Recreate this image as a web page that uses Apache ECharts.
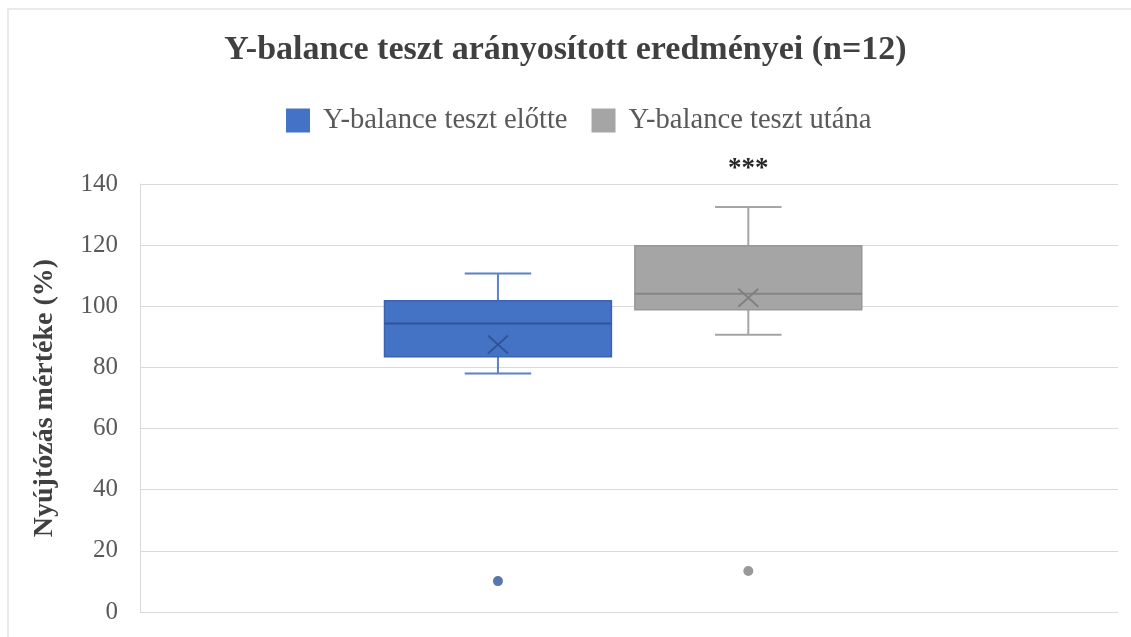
<!DOCTYPE html>
<html>
<head>
<meta charset="utf-8">
<script src="https://cdn.jsdelivr.net/npm/echarts@6/dist/echarts.min.js"></script>
<style>
  html, body { margin: 0; padding: 0; background: #ffffff; }
  #chart { width: 1131px; height: 637px; }
</style>
</head>
<body>
<div id="chart"></div>
<script>
// Y-balance test, normalised reach (%), n = 12
const seriesNames = ['Y-balance teszt előtte', 'Y-balance teszt utána'];
// five-number summaries: [lower whisker, Q1, median, Q3, upper whisker]
const before = [78, 83.5, 94.4, 101.8, 110.7];
const after = [90.7, 98.9, 104.1, 119.8, 132.5];
const means = [87.5, 102.8];
const outliersBefore = [10.1];
const outliersAfter = [13.4];
const significance = ['', '***'];
const yTicks = [0, 20, 40, 60, 80, 100, 120, 140];

const SERIF = '"Liberation Serif", "DejaVu Serif", serif';
const palette = [
  { fill: '#4472C4', edge: '#3a64b2', median: '#2f5597', whisker: '#5b82c9', mean: '#2f5597', dot: '#2f5597' },
  { fill: '#A5A5A5', edge: '#979797', median: '#858585', whisker: '#a5a5a5', mean: '#7f7f7f', dot: '#7f7f7f' }
];
// horizontal slot of each box on the hidden 0..1 x axis
const slot = [0.366, 0.622];
const boxHalf = 0.116;
const capHalf = 0.034;

function boxSeries(idx, stats) {
  const c = palette[idx];
  return {
    name: seriesNames[idx],
    type: 'custom',
    color: c.fill,
    itemStyle: { color: c.fill },
    data: [[idx].concat(stats)],
    renderItem: function (params, api) {
      const x = slot[idx];
      const lo = api.coord([x, api.value(1)]);
      const q1 = api.coord([x, api.value(2)]);
      const med = api.coord([x, api.value(3)]);
      const q3 = api.coord([x, api.value(4)]);
      const hi = api.coord([x, api.value(5)]);
      const mean = api.coord([x, means[idx]]);
      const left = api.coord([x - boxHalf, 0])[0];
      const right = api.coord([x + boxHalf, 0])[0];
      const capL = api.coord([x - capHalf, 0])[0];
      const capR = api.coord([x + capHalf, 0])[0];
      const cx = lo[0];
      const wStyle = { stroke: c.whisker, lineWidth: 2 };
      const children = [
        { type: 'line', shape: { x1: cx, y1: hi[1], x2: cx, y2: q3[1] }, style: wStyle },
        { type: 'line', shape: { x1: cx, y1: q1[1], x2: cx, y2: lo[1] }, style: wStyle },
        { type: 'line', shape: { x1: capL, y1: hi[1], x2: capR, y2: hi[1] }, style: wStyle },
        { type: 'line', shape: { x1: capL, y1: lo[1], x2: capR, y2: lo[1] }, style: wStyle },
        { type: 'rect', shape: { x: left, y: q3[1], width: right - left, height: q1[1] - q3[1] },
          style: { fill: c.fill, stroke: c.edge, lineWidth: 1.5 } },
        { type: 'line', shape: { x1: left, y1: med[1], x2: right, y2: med[1] },
          style: { stroke: c.median, lineWidth: 2 } },
        { type: 'line', shape: { x1: cx - 10, y1: mean[1] - 9, x2: cx + 10, y2: mean[1] + 9 },
          style: { stroke: c.mean, lineWidth: 1.8 } },
        { type: 'line', shape: { x1: cx - 10, y1: mean[1] + 9, x2: cx + 10, y2: mean[1] - 9 },
          style: { stroke: c.mean, lineWidth: 1.8 } }
      ];
      if (significance[idx]) {
        children.push({
          type: 'text',
          style: {
            text: significance[idx], x: cx, y: hi[1] - 38,
            align: 'center', verticalAlign: 'middle',
            fill: '#262626', font: 'bold 27px ' + SERIF
          }
        });
      }
      return { type: 'group', children: children };
    },
    z: 3
  };
}

function outlierSeries(idx, values) {
  return {
    name: seriesNames[idx],
    type: 'scatter',
    symbol: 'circle',
    symbolSize: 10,
    itemStyle: { color: palette[idx].dot },
    data: values.map(v => [slot[idx], v]),
    z: 4
  };
}

const chart = echarts.init(document.getElementById('chart'), null, { renderer: 'canvas' });
chart.setOption({
  animation: false,
  backgroundColor: '#ffffff',
  title: {
    text: 'Y-balance teszt arányosított eredményei (n=12)',
    left: 'center',
    top: 28,
    textStyle: { fontFamily: SERIF, fontWeight: 'bold', fontSize: 34, color: '#404040' }
  },
  legend: {
    top: 101,
    left: 281,
    itemWidth: 24,
    itemHeight: 24,
    itemGap: 24,
    icon: 'rect',
    data: seriesNames,
    textStyle: { fontFamily: SERIF, fontSize: 28.6, color: '#595959', padding: [0, 0, 0, 8] }
  },
  grid: { left: 140, right: 13, top: 184, bottom: 25 },
  xAxis: { type: 'value', min: 0, max: 1, show: false },
  yAxis: {
    type: 'value',
    min: yTicks[0],
    max: yTicks[yTicks.length - 1],
    interval: 20,
    name: 'Nyújtózás mértéke (%)',
    nameLocation: 'middle',
    nameRotate: 90,
    nameGap: 81,
    nameTextStyle: { fontFamily: SERIF, fontWeight: 'bold', fontSize: 28, color: '#404040' },
    axisLine: { show: true, lineStyle: { color: '#d9d9d9', width: 1 } },
    axisTick: { show: false },
    axisLabel: { fontFamily: SERIF, fontSize: 25, color: '#595959', margin: 22 },
    splitLine: { lineStyle: { color: '#d9d9d9', width: 1 } }
  },
  series: [
    boxSeries(0, before),
    boxSeries(1, after),
    outlierSeries(0, outliersBefore),
    outlierSeries(1, outliersAfter)
  ],
  graphic: [{
    type: 'rect',
    shape: { x: 8, y: 9, width: 1140, height: 650 },
    style: { fill: 'none', stroke: '#e3e3e3', lineWidth: 1.5 },
    silent: true
  }]
});
</script>
</body>
</html>
